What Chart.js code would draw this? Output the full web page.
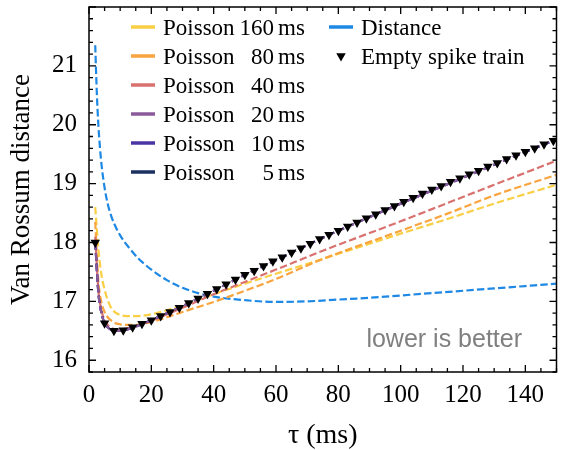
<!DOCTYPE html>
<html>
<head>
<meta charset="utf-8">
<script src="https://cdn.jsdelivr.net/npm/chart.js@4.4.1/dist/chart.umd.min.js"></script>
<style>
  html, body { margin: 0; padding: 0; background: #fff; }
  #chart { display: block; }
</style>
</head>
<body>
<canvas id="chart" width="562" height="450"></canvas>
<script>
// tau grid for the Poisson curves (ms)
const tauLine = [2, 3, 4, 5, 6, 7, 8, 10, 12, 15, 20, 25, 30, 40, 50, 60, 75, 90, 100, 115, 130, 150];
const poisson160 = [18.60, 17.90, 17.45, 17.20, 17.02, 16.90, 16.83, 16.77, 16.75, 16.75, 16.78, 16.85, 16.93, 17.12, 17.30, 17.47, 17.72, 17.98, 18.15, 18.40, 18.66, 18.98];
const poisson80  = [18.35, 17.35, 16.98, 16.82, 16.73, 16.68, 16.64, 16.61, 16.60, 16.60, 16.65, 16.73, 16.82, 16.99, 17.18, 17.38, 17.72, 18.01, 18.20, 18.49, 18.80, 19.15];
const poisson40  = [18.10, 17.20, 16.85, 16.68, 16.60, 16.55, 16.53, 16.52, 16.54, 16.58, 16.67, 16.78, 16.89, 17.12, 17.33, 17.54, 17.86, 18.16, 18.36, 18.67, 18.98, 19.39];
const poisson20  = [18.00, 17.15, 16.80, 16.63, 16.56, 16.52, 16.50, 16.50, 16.52, 16.57, 16.68, 16.80, 16.92, 17.18, 17.45, 17.70, 18.08, 18.43, 18.66, 18.99, 19.32, 19.76];
const poisson10  = [18.00, 17.15, 16.80, 16.63, 16.56, 16.52, 16.50, 16.50, 16.52, 16.57, 16.68, 16.80, 16.92, 17.18, 17.45, 17.70, 18.08, 18.43, 18.66, 18.99, 19.32, 19.75];
const poisson5   = [18.00, 17.15, 16.80, 16.63, 16.56, 16.52, 16.50, 16.50, 16.52, 16.57, 16.68, 16.80, 16.92, 17.18, 17.45, 17.70, 18.08, 18.43, 18.66, 18.99, 19.32, 19.75];

const tauDist = [2, 2.5, 3, 3.5, 4, 5, 6, 7, 8, 10, 13, 16, 20, 25, 30, 35, 40, 50, 60, 70, 80, 90, 100, 110, 120, 130, 140, 150];
const distance = [21.35, 20.55, 20.00, 19.62, 19.33, 18.93, 18.66, 18.47, 18.33, 18.12, 17.90, 17.72, 17.54, 17.36, 17.23, 17.14, 17.08, 17.02, 16.99, 17.00, 17.03, 17.06, 17.10, 17.14, 17.18, 17.22, 17.26, 17.30];

const tauEmpty = [2, 5, 8, 11, 14, 17, 20, 23, 26, 29, 32, 35, 38, 41, 44, 47, 50, 53, 56, 59, 62, 65, 68, 71, 74, 77, 80, 83, 86, 89, 92, 95, 98, 101, 104, 107, 110, 113, 116, 119, 122, 125, 128, 131, 134, 137, 140, 143, 146, 149];
const emptyTrain = [18.00, 16.63, 16.50, 16.51, 16.56, 16.62, 16.68, 16.75, 16.82, 16.89, 16.97, 17.05, 17.13, 17.21, 17.29, 17.37, 17.45, 17.52, 17.60, 17.68, 17.75, 17.83, 17.90, 17.98, 18.06, 18.13, 18.20, 18.27, 18.34, 18.41, 18.48, 18.55, 18.62, 18.69, 18.76, 18.83, 18.90, 18.96, 19.03, 19.09, 19.16, 19.22, 19.29, 19.35, 19.42, 19.48, 19.54, 19.60, 19.67, 19.73];

const xTicks = [0, 20, 40, 60, 80, 100, 120, 140];
const yTicks = [16, 17, 18, 19, 20, 21];

const serif = "'Liberation Serif', 'DejaVu Serif', serif";
const pts = (xs, ys) => xs.map((x, i) => ({ x: x, y: ys[i] }));

function dashed(label, xs, ys, color, order) {
    return {
        label: label,
        data: pts(xs, ys),
        borderColor: color,
        backgroundColor: color,
        borderWidth: 2.2,
        borderDash: [7.4, 3.2],
        pointRadius: 0,
        cubicInterpolationMode: 'monotone',
        fill: false,
        order: order
    };
}

const datasets = [
    dashed('Poisson 160 ms', tauLine, poisson160, '#f9cf45', 6),
    dashed('Poisson 80 ms', tauLine, poisson80, '#f9a43e', 5),
    dashed('Poisson 40 ms', tauLine, poisson40, '#d9716f', 4),
    dashed('Poisson 20 ms', tauLine, poisson20, '#8b5a9a', 1),
    dashed('Poisson 10 ms', tauLine, poisson10, '#4b34a4', 2),
    dashed('Poisson 5 ms', tauLine, poisson5, '#1a3060', 3),
    dashed('Distance', tauDist, distance, '#1e88e5', 7),
    {
        label: 'Empty spike train',
        data: pts(tauEmpty, emptyTrain),
        showLine: false,
        pointStyle: 'triangle',
        rotation: 180,
        pointRadius: 5.5,
        pointBackgroundColor: '#000',
        pointBorderColor: '#000',
        pointBorderWidth: 0,
        order: 0
    }
];

// inward ticks on all four sides + frame
const frameTicks = {
    id: 'frameTicks',
    afterDatasetsDraw(chart) {
        const { ctx, chartArea: a, scales: { x, y } } = chart;
        ctx.save();
        ctx.strokeStyle = '#000';
        ctx.lineWidth = 1.3;
        ctx.beginPath();
        for (let v = 0; v <= 150; v += 5) {
            const px = x.getPixelForValue(v);
            const len = xTicks.includes(v) ? 7 : 4;
            ctx.moveTo(px, a.bottom); ctx.lineTo(px, a.bottom - len);
            ctx.moveTo(px, a.top); ctx.lineTo(px, a.top + len);
        }
        for (let i = 79; i <= 110; i++) {
            const py = y.getPixelForValue(i / 5);
            const len = (i % 5 === 0) ? 7 : 4;
            ctx.moveTo(a.left, py); ctx.lineTo(a.left + len, py);
            ctx.moveTo(a.right, py); ctx.lineTo(a.right - len, py);
        }
        ctx.stroke();
        ctx.lineWidth = 1.5;
        ctx.strokeRect(a.left, a.top, a.width, a.height);
        ctx.restore();
    }
};

// two-column legend and the note
const legendNote = {
    id: 'legendNote',
    afterDraw(chart) {
        const ctx = chart.ctx;
        const ds = chart.data.datasets;
        ctx.save();
        ctx.font = '23px ' + serif;
        ctx.fillStyle = '#000';
        ctx.textBaseline = 'middle';
        const rowH = 29;
        const y0 = 27;
        for (let i = 0; i < 6; i++) {
            const yy = y0 + i * rowH;
            const parts = ds[i].label.split(' ');
            ctx.strokeStyle = ds[i].borderColor;
            ctx.lineWidth = 3.5;
            ctx.beginPath(); ctx.moveTo(131, yy); ctx.lineTo(155, yy); ctx.stroke();
            ctx.textAlign = 'left';
            ctx.fillText(parts[0], 163, yy + 2);
            ctx.textAlign = 'right';
            ctx.fillText(parts[1], 274, yy + 2);
            ctx.textAlign = 'left';
            ctx.fillText(parts[2], 278, yy + 2);
        }
        // column 2
        ctx.strokeStyle = ds[6].borderColor;
        ctx.lineWidth = 3.5;
        ctx.beginPath(); ctx.moveTo(329, y0); ctx.lineTo(353, y0); ctx.stroke();
        ctx.textAlign = 'left';
        ctx.fillText(ds[6].label, 361, y0 + 2);
        Chart.helpers.drawPoint(ctx, { pointStyle: 'triangle', rotation: 180, radius: 5.5, borderWidth: 0 }, 341, y0 + rowH);
        ctx.fillStyle = '#000';
        ctx.fillText(ds[7].label, 361, y0 + rowH + 2);

        ctx.font = "25px 'Liberation Sans', Arial, sans-serif";
        ctx.fillStyle = '#808080';
        ctx.textAlign = 'right';
        ctx.textBaseline = 'alphabetic';
        ctx.fillText('lower is better', 522, 347);
        ctx.restore();
    }
};

new Chart(document.getElementById('chart'), {
    type: 'line',
    data: { datasets: datasets },
    plugins: [frameTicks, legendNote],
    options: {
        responsive: false,
        animation: false,
        layout: { padding: { top: 7, right: 3, left: 0, bottom: 0 } },
        plugins: { legend: { display: false }, tooltip: { enabled: false } },
        scales: {
            x: {
                type: 'linear', min: 0, max: 150,
                afterBuildTicks: s => { s.ticks = xTicks.map(v => ({ value: v })); },
                afterFit: s => { s.height = 78; s.paddingLeft = 0; s.paddingRight = 0; },
                ticks: { color: '#000', font: { family: serif, size: 25 }, padding: 8, maxRotation: 0, autoSkip: false },
                grid: { display: false, drawTicks: false },
                border: { display: false },
                title: { display: true, text: 'τ (ms)', color: '#000', font: { family: serif, size: 28, lineHeight: 1 }, padding: { top: 0, bottom: 0 } }
            },
            y: {
                type: 'linear', min: 15.8, max: 22,
                afterBuildTicks: s => { s.ticks = yTicks.map(v => ({ value: v })); },
                afterFit: s => { s.width = 89; s.paddingTop = 0; s.paddingBottom = 0; },
                ticks: { color: '#000', font: { family: serif, size: 25 }, padding: 12, autoSkip: false },
                grid: { display: false, drawTicks: false },
                border: { display: false },
                title: { display: true, text: 'Van Rossum distance', color: '#000', font: { family: serif, size: 27, lineHeight: 1 }, padding: { top: 8, bottom: 0 } }
            }
        }
    }
});
</script>
</body>
</html>
